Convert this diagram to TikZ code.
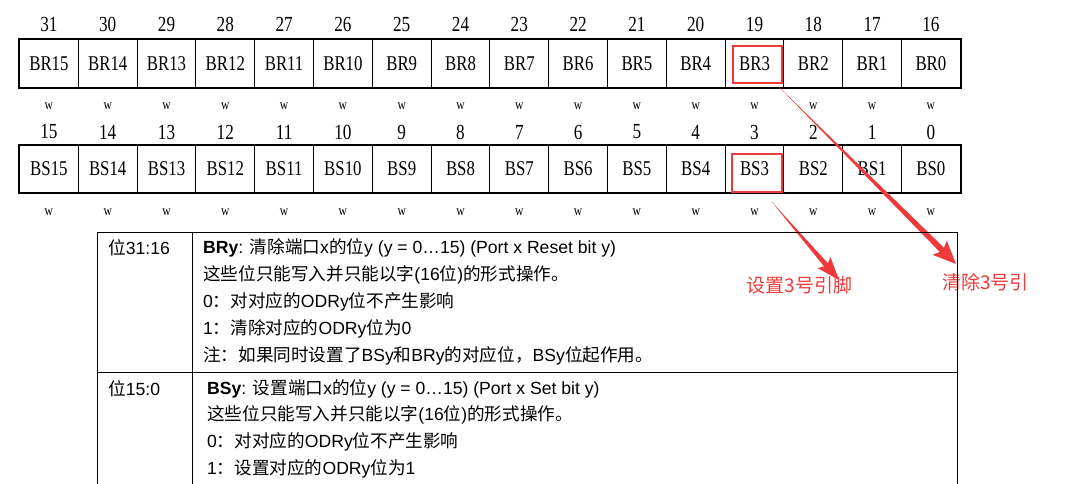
\documentclass[tikz,border=0pt]{standalone}
\usepackage{fontspec}
\setmainfont{Liberation Sans}
\newfontfamily\regfont[FakeStretch=0.8]{Liberation Serif}
\newfontfamily\cjk{Noto Sans CJK SC}
\usetikzlibrary{calc}
\definecolor{annotred}{RGB}{238,58,58}
\newcommand{\zh}[1]{{\cjk #1}}
\newcommand{\taperarrow}[4]{%
    \path (#1) coordinate (ta) (#2) coordinate (tb);
    \path ($(tb)!20pt!(ta)$) coordinate (tm);
    \path ($(tb)!23pt!(ta)$) coordinate (tn);
    \fill[annotred] (ta) -- ($(tm)!#3!90:(tb)$) -- ($(tn)!#4!90:(tb)$) -- (tb)
        -- ($(tn)!#4!-90:(tb)$) -- ($(tm)!#3!-90:(tb)$) -- cycle;
}
\tikzset{
    bitcell/.style={
        draw,
        line width=1pt,
        minimum width=58.8pt,
        minimum height=47.5pt,
        inner sep=0pt,
        font=\regfont\fontsize{21}{21}\selectfont
    },
    bitnum/.style={
        inner sep=0pt,
        font=\regfont\fontsize{21.5}{21.5}\selectfont
    },
    wflag/.style={
        inner sep=0pt,
        font=\regfont\fontsize{14.5}{14.5}\selectfont
    },
    regframe/.style={
        line width=2pt
    },
    hlbox/.style={
        draw=annotred,
        line width=2.5pt,
        inner sep=0pt
    },
    annot/.style={
        text=annotred,
        inner sep=0pt,
        font=\cjk\fontsize{19}{19}\selectfont
    },
    desc/.style={
        anchor=west,
        inner sep=0pt,
        font=\fontsize{17.6}{20}\selectfont
    },
    tablerule/.style={
        line width=0.8pt
    }
}
\begin{document}
\begin{tikzpicture}
[
    x=1pt,
    y=-1pt
]
\useasboundingbox (0,0) rectangle (1065,484);
\foreach \i in {0,...,15} {
    \pgfmathtruncatemacro{\b}{15-\i}
    \pgfmathtruncatemacro{\n}{31-\i}
    \pgfmathsetmacro{\x}{19.5+58.8*(\i+0.5)}
    \node[bitcell] (br\b) at (\x,63.75) {BR\b};
    \node[bitnum] (nr\b) at (\x,24) {\n};
    \node[wflag] (wr\b) at (\x,106) {w};
    \node[bitcell] (bs\b) at (\x,169) {BS\b};
    \node[bitnum] (ns\b) at (\x,132) {\b};
    \node[wflag] (ws\b) at (\x,212) {w};
}
\draw[regframe] (br15.north west) rectangle (br0.south east);
\draw[regframe] (bs15.north west) rectangle (bs0.south east);

\node[hlbox, minimum width=49pt, minimum height=37pt] (hlbr) at (757.5,64.5) {};
\node[hlbox, minimum width=50pt, minimum height=38pt] (hlbs) at (757,173) {};

\node[annot] (setlbl) at (799.5,285) {设置3号引脚};
\node[annot] (clrlbl) at (985.5,282) {清除3号引};
\coordinate (setstart) at (771,201);
\coordinate (settip) at (839,280);
\coordinate (clrtip) at (956,264);
\taperarrow{$(hlbr.south east)+(-5,2)$}{clrtip}{3pt}{10pt}
\taperarrow{setstart}{settip}{2.5pt}{8.5pt}

\coordinate (tl) at (97,232);
\coordinate (tr) at (957,232);
\draw[tablerule] (tl) -- (tr);
\draw[tablerule] (97,372) -- (957,372);
\draw[tablerule] (tl) -- (97,484);
\draw[tablerule] (192,232) -- (192,484);
\draw[tablerule] (tr) -- (957,484);

\node[desc] (bitsr) at (108,248) {\zh{位}31:16};
\node[desc] (br1) at (203,248) {\textbf{BRy}: \zh{清除端口}x\zh{的位}y (y = 0…15) (Port x Reset bit y)};
\node[desc] (br2) at (203,275) {\zh{这些位只能写入并只能以字}(16\zh{位})\zh{的形式操作。}};
\node[desc] (br3l) at (203,302) {0\zh{：对对应的}ODRy\zh{位不产生影响}};
\node[desc] (br4) at (203,329) {1\zh{：清除对应的}ODRy\zh{位为}0};
\node[desc] (br5) at (203,356) {\zh{注：如果同时设置了}BSy\zh{和}BRy\zh{的对应位，}BSy\zh{位起作用。}};

\node[desc] (bitss) at (108,389) {\zh{位}15:0};
\node[desc] (bs1) at (207,389) {\textbf{BSy}: \zh{设置端口}x\zh{的位}y (y = 0…15) (Port x Set bit y)};
\node[desc] (bs2) at (207,415) {\zh{这些位只能写入并只能以字}(16\zh{位})\zh{的形式操作。}};
\node[desc] (bs3l) at (207,442) {0\zh{：对对应的}ODRy\zh{位不产生影响}};
\node[desc] (bs4) at (207,469) {1\zh{：设置对应的}ODRy\zh{位为}1};
\end{tikzpicture}
\end{document}
